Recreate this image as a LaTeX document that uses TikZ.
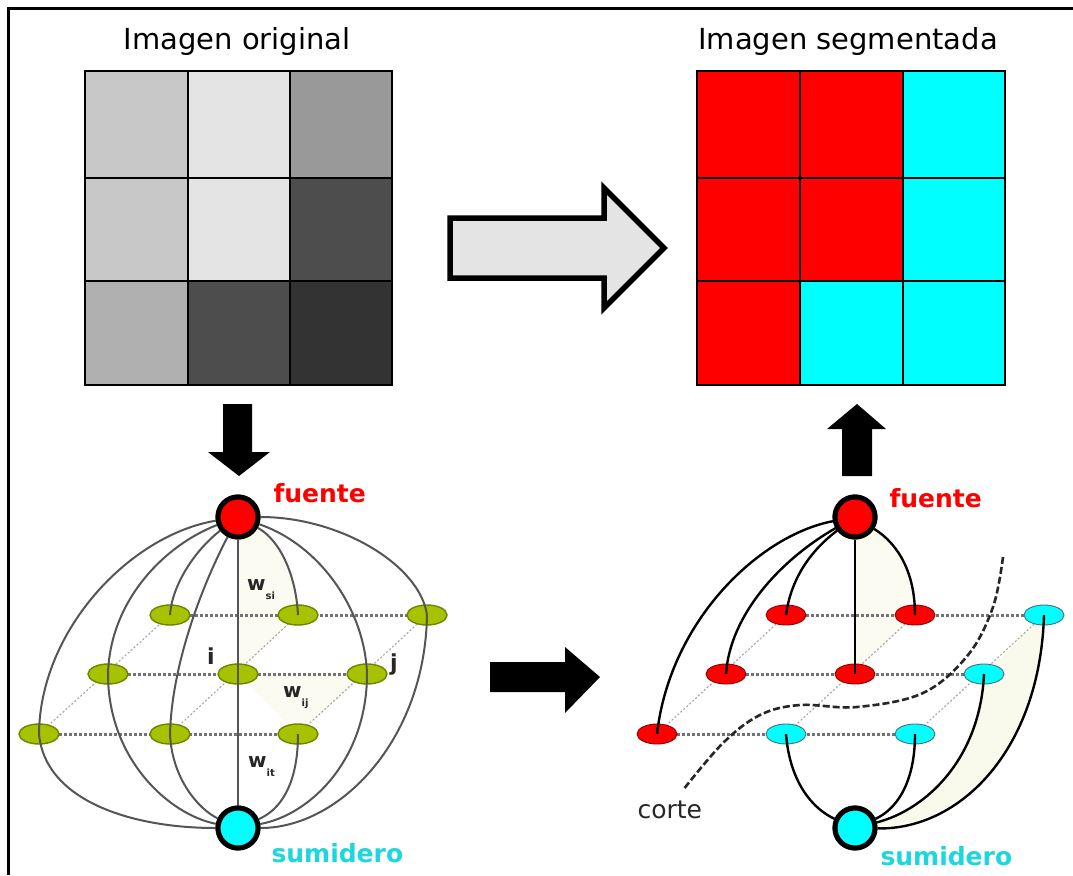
\documentclass[tikz,border=0pt]{standalone}
\usepackage{fontspec}
\setmainfont{DejaVu Sans}
\usetikzlibrary{shapes.geometric}
\definecolor{gA}{HTML}{C8C8C8}
\definecolor{gB}{HTML}{E4E4E4}
\definecolor{gC}{HTML}{999999}
\definecolor{gD}{HTML}{4D4D4D}
\definecolor{gE}{HTML}{B0B0B0}
\definecolor{gF}{HTML}{333333}
\definecolor{segred}{HTML}{FF0000}
\definecolor{segcyan}{HTML}{00FFFF}
\definecolor{leafgreen}{HTML}{A6C200}
\definecolor{leafedge}{HTML}{6F8500}
\definecolor{edgegray}{HTML}{555555}
\definecolor{cream}{HTML}{F9F9EC}
\definecolor{faintcream}{HTML}{FBFBF1}
\definecolor{sinktext}{HTML}{1ED6DE}
\begin{document}
\begin{tikzpicture}[x=1pt,y=-1pt,
  gridline/.style={draw=black,line width=1.4pt},
  leaf/.style={ellipse,minimum width=40pt,minimum height=20pt,inner sep=0pt,line width=1.4pt},
  gleaf/.style={leaf,draw=leafedge,fill=leafgreen},
  rleaf/.style={leaf,draw=red!55!black,fill=segred,line width=0.9pt},
  cleaf/.style={leaf,draw=cyan!45!black,fill=segcyan,line width=0.9pt},
  term/.style={circle,draw=black,line width=5pt,minimum size=40pt,inner sep=0pt},
  ledge/.style={draw=edgegray,line width=2pt},
  redge/.style={draw=black,line width=2.4pt},
  rowdot/.style={draw=black!55,line width=3pt,dash pattern=on 3pt off 2pt},
  diagdot/.style={draw=black!35,line width=1.1pt,dash pattern=on 2pt off 2pt},
  bigarrow/.style={fill=black},
  title/.style={anchor=base,font=\fontsize{29}{34}\selectfont},
  srclabel/.style={anchor=base west,text=segred,font=\fontsize{25}{30}\selectfont\bfseries},
  sinklabel/.style={anchor=base west,text=sinktext,font=\fontsize{25}{30}\selectfont\bfseries},
  wlabel/.style={anchor=base west,inner sep=0pt,text=black!85,font=\fontsize{20}{24}\selectfont\bfseries}
]
\useasboundingbox (0,0) rectangle (1073,875);
\fill[white] (0,0) rectangle (1073,875);
\draw[line width=3pt] (8.5,875) -- (8.5,8.5) -- (1073,8.5);

% titles
\node[title] (t1) at (237,50) {Imagen original};
\node[title] (t2) at (848,50) {Imagen segmentada};

% original image grid
\fill[gA] (85,71) rectangle (188,178);
\fill[gB] (188,71) rectangle (290,178);
\fill[gC] (290,71) rectangle (392,178);
\fill[gA] (85,178) rectangle (188,281);
\fill[gB] (188,178) rectangle (290,281);
\fill[gD] (290,178) rectangle (392,281);
\fill[gE] (85,281) rectangle (188,385);
\fill[gD] (188,281) rectangle (290,385);
\fill[gF] (290,281) rectangle (392,385);
\draw[gridline] (85,71) rectangle (392,385);
\draw[gridline] (188,71) -- (188,385) (290,71) -- (290,385) (85,178) -- (392,178) (85,281) -- (392,281);

% segmented image grid
\fill[segred] (697,71) rectangle (800,178);
\fill[segred] (800,71) rectangle (903,178);
\fill[segcyan] (903,71) rectangle (1005,178);
\fill[segred] (697,178) rectangle (800,281);
\fill[segred] (800,178) rectangle (903,281);
\fill[segcyan] (903,178) rectangle (1005,281);
\fill[segred] (697,281) rectangle (800,385);
\fill[segcyan] (800,281) rectangle (903,385);
\fill[segcyan] (903,281) rectangle (1005,385);
\draw[gridline] (697,71) rectangle (1005,385);
\draw[gridline] (800,71) -- (800,385) (903,71) -- (903,385) (697,178) -- (1005,178) (697,281) -- (1005,281);

% big grey arrow
\draw[line width=5.5pt,line join=miter,fill=gB]
  (450,218) -- (604,218) -- (604,188) -- (664,248) -- (604,308) -- (604,278) -- (450,278) -- cycle;

% black arrows
\fill[bigarrow] (223,404) -- (252,404) -- (252,452) -- (270,452) -- (239,476) -- (208,452) -- (223,452) -- cycle;
\fill[bigarrow] (857,404) -- (886,429) -- (872,429) -- (872,476) -- (842,476) -- (842,429) -- (827,429) -- cycle;
\fill[bigarrow] (490,662) -- (565,662) -- (565,647) -- (600,677) -- (565,713) -- (565,692) -- (490,692) -- cycle;

% ===== left graph =====
\coordinate (lSc) at (238,517);
\coordinate (lTc) at (238,828);
% faint shading
\fill[faintcream] (238,540) -- (238,674) -- (298,615) .. controls (296,575) and (280,540) .. (258,528) -- cycle;
\fill[faintcream] (238,674) -- (367,674) -- (298,734) -- cycle;
% grid dotted lines
\draw[rowdot] (39,734) -- (298,734);
\draw[rowdot] (108,674) -- (367,674);
\draw[rowdot] (170,615) -- (427,615);
\draw[diagdot] (39,734) -- (170,615);
\draw[diagdot] (170,734) -- (298,615);
\draw[diagdot] (298,734) -- (427,615);
% nodes
\node[gleaf] (lFL) at (39,734) {};
\node[gleaf] (lFC) at (170,734) {};
\node[gleaf] (lFR) at (298,734) {};
\node[gleaf] (lML) at (108,674) {};
\node[gleaf] (lMC) at (238,674) {};
\node[gleaf] (lMR) at (367,674) {};
\node[gleaf] (lBL) at (170,615) {};
\node[gleaf] (lBC) at (298,615) {};
\node[gleaf] (lBR) at (427,615) {};
\node[term,fill=segred] (lS) at (lSc) {};
\node[term,fill=segcyan] (lT) at (lTc) {};
% source edges
\draw[ledge] (lS) .. controls (130,535) and (40,630) .. (lFL.center);
\draw[ledge] (lS) .. controls (165,545) and (110,600) .. (lML.center);
\draw[ledge] (lS) .. controls (195,550) and (172,585) .. (lBL.center);
\draw[ledge] (lS) .. controls (205,580) and (172,660) .. (lFC.center);
\draw[ledge] (lS) -- (lMC.center);
\draw[ledge] (lS) .. controls (280,540) and (296,575) .. (lBC.center);
\draw[ledge] (lS) .. controls (320,545) and (365,610) .. (lMR.center);
\draw[ledge] (lS) .. controls (340,517) and (420,565) .. (lBR.center);
% sink edges
\draw[ledge] (lFL.center) .. controls (45,800) and (130,828) .. (lT);
\draw[ledge] (lML.center) .. controls (108,760) and (170,815) .. (lT);
\draw[ledge] (lFC.center) .. controls (172,780) and (200,810) .. (lT);
\draw[ledge] (lMC.center) -- (lT);
\draw[ledge] (lFR.center) .. controls (298,785) and (280,810) .. (lT);
\draw[ledge] (lMR.center) .. controls (367,760) and (310,815) .. (lT);
\draw[ledge] (lBR.center) .. controls (425,740) and (340,828) .. (lT);
% redraw terminals on top
\node[term,fill=segred] at (lSc) {};
\node[term,fill=segcyan] at (lTc) {};
% labels
\node[srclabel] (lsrc) at (270,502) {fuente};
\node[sinklabel] (lsnk) at (268,862) {sumidero};
\node[wlabel] (wsi) at (247,590) {w\raisebox{-9pt}{\fontsize{10}{12}\selectfont si}};
\node[wlabel] (wij) at (283,697) {w\raisebox{-9pt}{\fontsize{10}{12}\selectfont ij}};
\node[wlabel] (wit) at (248,767) {w\raisebox{-9pt}{\fontsize{10}{12}\selectfont it}};
\node[wlabel,font=\fontsize{22}{26}\selectfont\bfseries] (li) at (207,664) {i};
\node[wlabel,font=\fontsize{22}{26}\selectfont\bfseries] (lj) at (390,670) {j};

% ===== right graph =====
\coordinate (rSc) at (855,517);
\coordinate (rTc) at (855,828);
\fill[faintcream] (855,540) -- (855,674) -- (915,615) .. controls (915,575) and (900,545) .. (873,530) -- cycle;
\fill[cream] (984,674) .. controls (980,760) and (925,810) .. (870,826) .. controls (960,830) and (1040,750) .. (1044,615) -- cycle;
\draw[rowdot] (657,734) -- (915,734);
\draw[rowdot] (726,674) -- (984,674);
\draw[rowdot] (786,615) -- (1044,615);
\draw[diagdot] (657,734) -- (786,615);
\draw[diagdot] (786,734) -- (915,615);
\draw[diagdot] (915,734) -- (1044,615);
\node[rleaf] (rFL) at (657,734) {};
\node[cleaf] (rFC) at (786,734) {};
\node[cleaf] (rFR) at (915,734) {};
\node[rleaf] (rML) at (726,674) {};
\node[rleaf] (rMC) at (855,674) {};
\node[cleaf] (rMR) at (984,674) {};
\node[rleaf] (rBL) at (786,615) {};
\node[rleaf] (rBC) at (915,615) {};
\node[cleaf] (rBR) at (1044,615) {};
\node[term,fill=segred] (rS) at (rSc) {};
\node[term,fill=segcyan] (rT) at (rTc) {};
\draw[redge] (rS) .. controls (760,535) and (670,620) .. (rFL.center);
\draw[redge] (rS) .. controls (780,560) and (730,615) .. (rML.center);
\draw[redge] (rS) .. controls (805,555) and (790,585) .. (rBL.center);
\draw[redge] (rS) -- (rMC.center);
\draw[redge] (rS) .. controls (900,545) and (915,575) .. (rBC.center);
\draw[redge] (rFC.center) .. controls (790,785) and (815,810) .. (rT);
\draw[redge] (rFR.center) .. controls (915,785) and (895,810) .. (rT);
\draw[redge] (rMR.center) .. controls (980,760) and (925,810) .. (rT);
\draw[redge] (rBR.center) .. controls (1040,750) and (960,830) .. (rT);
\node[term,fill=segred] at (rSc) {};
\node[term,fill=segcyan] at (rTc) {};
% cut
\coordinate (cutA) at (1003,557);
\coordinate (cutB) at (683,790);
\draw[black!85,line width=2.6pt,dash pattern=on 7pt off 3pt] plot[smooth,tension=0.6] coordinates
  {(1003,557) (993,607) (968,655) (923,693) (857,707) (800,705) (760,715) (723,743) (683,790)};
\node[anchor=base west,text=black!85,font=\fontsize{25}{30}\selectfont] (corte) at (634,818) {corte};
\node[srclabel] (rsrc) at (886,507) {fuente};
\node[sinklabel] (rsnk) at (877,865) {sumidero};
\end{tikzpicture}
\end{document}
